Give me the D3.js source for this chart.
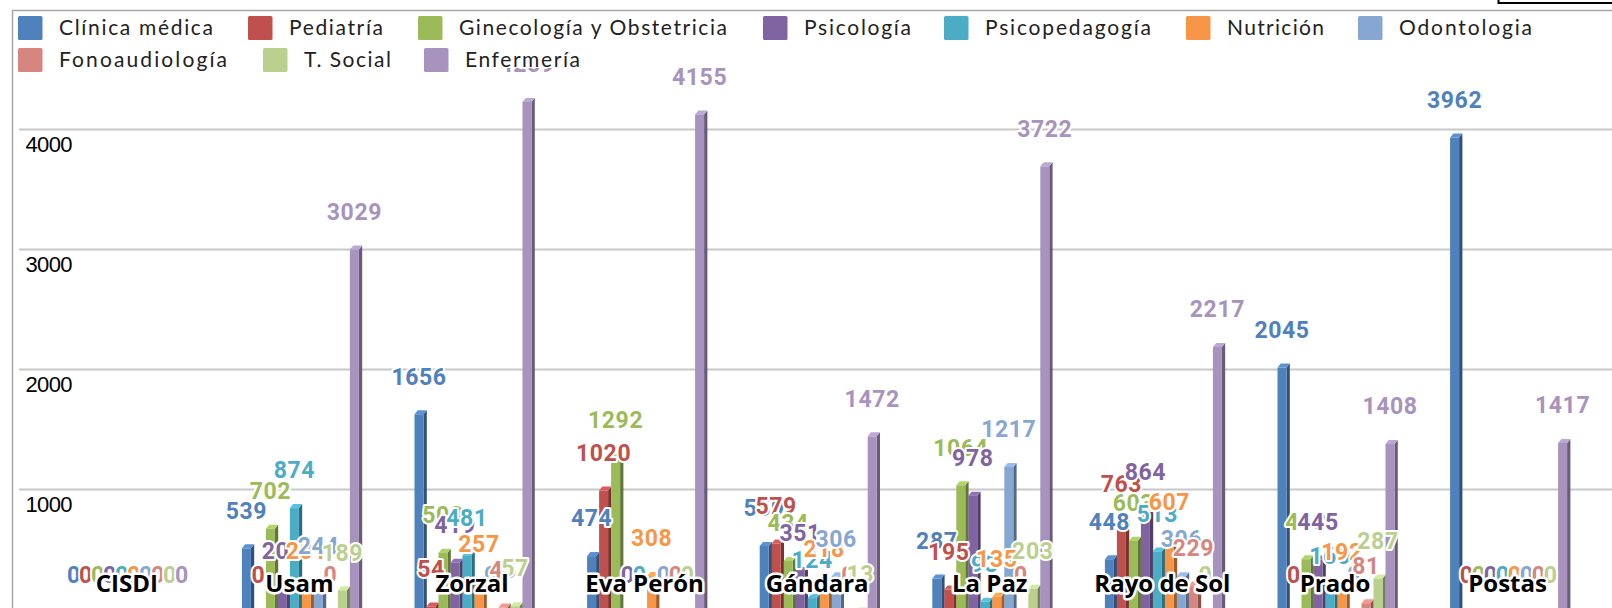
<!DOCTYPE html>
<html>
<head>
<meta charset="utf-8">
<script src="https://cdn.jsdelivr.net/npm/d3@7"></script>
<style>
  html, body { margin: 0; padding: 0; background: #fff; overflow: hidden; }
  svg { display: block; }
</style>
</head>
<body>
<div class="canvas1"></div>
<script>
const categories = ["CISDI", "Usam", "Zorzal", "Eva Perón", "Gándara", "La Paz", "Rayo de Sol", "Prado", "Postas"];
const series = ["Clínica médica", "Pediatría", "Ginecología y Obstetricia", "Psicología", "Psicopedagogía", "Nutrición", "Odontologia", "Fonoaudiología", "T. Social", "Enfermería"];
const colors = ["#4f81bd", "#c0504d", "#9bbb59", "#8064a2", "#4bacc6", "#f79646", "#86a7d2", "#d7867f", "#bbd08e", "#a793be"];

const clinica = [0, 539, 1656, 474, 559, 287, 448, 2045, 3962];
const pediatria = [0, 0, 54, 1020, 579, 195, 763, 0, 0];
const gineco = [0, 702, 503, 1292, 434, 1064, 603, 448, 0];
const psicologia = [0, 205, 419, 0, 351, 978, 864, 445, 0];
const psicoped = [0, 874, 481, 0, 124, 93, 513, 160, 0];
const nutricion = [0, 201, 257, 308, 218, 135, 607, 192, 0];
const odonto = [0, 244, 0, 0, 306, 1217, 306, 0, 0];
const fono = [0, 0, 45, 0, 0, 0, 229, 81, 0];
const social = [0, 189, 57, 0, 13, 203, 0, 287, 0];
const enfermeria = [0, 3029, 4259, 4155, 1472, 3722, 2217, 1408, 1417];
const values = [clinica, pediatria, gineco, psicologia, psicoped, nutricion, odonto, fono, social, enfermeria];

const yTicks = [1000, 2000, 3000, 4000];

// legend layout: [left, row, text width]
const legendPlace = [
  [18, 0, 154], [248, 0, 94], [418, 0, 268], [763, 0, 107], [944, 0, 166], [1186, 0, 97], [1358, 0, 133],
  [18, 1, 168], [263, 1, 87], [424, 1, 115]
];

const width = 1612, height = 608;

const svg = d3.select(".canvas1").append("svg")
    .attr("width", width)
    .attr("height", height);

svg.append("rect").attr("width", width).attr("height", height).attr("fill", "#fff");

// scales, the zero line falls just under the bottom edge of the picture
const y = d3.scaleLinear().domain([0, 4000]).range([609, 129]);
const x0 = d3.scaleBand().domain(categories).range([43, 1596.4]).paddingInner(0.3048).paddingOuter(0.1524);
const x1 = d3.scaleBand().domain(series).range([0, x0.bandwidth()]);

const barW = 9, depthX = 3.3, depthY = 4;

// frame
svg.append("path")
    .attr("d", "M12.5,608V10.5H1612")
    .attr("fill", "none")
    .attr("stroke", "#a6a6a6")
    .attr("stroke-width", 1.5);

// box corner in the top right
svg.append("path")
    .attr("d", "M1498.5,0V3H1612")
    .attr("fill", "none")
    .attr("stroke", "#000")
    .attr("stroke-width", 2);

// grid lines
const grid = svg.append("g")
    .attr("transform", "translate(19,0)")
    .call(d3.axisRight(y).tickValues(yTicks).tickSize(1593).tickFormat(""));
grid.select(".domain").remove();
grid.selectAll("line").attr("stroke", "#c8c8c8").attr("stroke-width", 2);

// y axis labels sit under their grid line
const yAxis = svg.append("g")
    .attr("transform", "translate(72,15)")
    .call(d3.axisLeft(y).tickValues(yTicks).tickSize(0).tickPadding(0).tickFormat(d3.format("d")));
yAxis.select(".domain").remove();
yAxis.selectAll("text")
    .attr("fill", "#000")
    .style("font-family", "'Liberation Sans', sans-serif")
    .style("font-size", "22px")
    .style("letter-spacing", "-0.6px");

// bars, series by series
series.forEach((s, i) => {
  const g = svg.append("g").attr("class", "series");
  const c = d3.color(colors[i]);
  const bars = g.selectAll("g")
    .data(categories.map((cat, j) => ({ cat: cat, v: values[i][j] })).filter(d => d.v > 0))
    .join("g")
      .attr("transform", d => "translate(" + (x0(d.cat) + x1(s)) + "," + y(d.v) + ")");

  // side
  bars.append("path")
      .attr("d", d => "M" + barW + "," + depthY + "l" + depthX + "," + (-depthY) + "V" + (y(0) - y(d.v)) + "H" + barW + "Z")
      .attr("fill", c.darker(1.3));
  // top
  bars.append("path")
      .attr("d", "M0," + depthY + "l" + depthX + "," + (-depthY) + "h" + barW + "l" + (-depthX) + "," + depthY + "Z")
      .attr("fill", c.brighter(0.35));
  // front
  bars.append("rect")
      .attr("y", depthY)
      .attr("width", barW)
      .attr("height", d => y(0) - y(d.v))
      .attr("fill", c);
});

// data labels go on top of all the bars
series.forEach((s, i) => {
  svg.append("g").selectAll("text")
    .data(categories.map((cat, j) => ({ cat: cat, v: values[i][j] })))
    .join("text")
      .attr("x", d => x0(d.cat) + x1(s) + barW / 2)
      .attr("y", d => y(d.v) - 34)
      .attr("dy", "0.36em")
      .attr("text-anchor", "middle")
      .attr("fill", colors[i])
      .attr("stroke", "#fff")
      .attr("stroke-width", 4)
      .attr("stroke-linejoin", "round")
      .style("paint-order", "stroke")
      .style("font-family", "Roboto, sans-serif")
      .style("font-weight", 700)
      .style("font-size", "23px")
      .style("letter-spacing", "0.6px")
      .text(d => d.v);
});

// category names
svg.append("g").selectAll("text")
  .data(categories)
  .join("text")
    .attr("x", d => x0(d) + x0.bandwidth() / 2 - 2.5)
    .attr("y", 583)
    .attr("dy", "0.36em")
    .attr("text-anchor", "middle")
    .attr("fill", "#000")
    .attr("stroke", "#fff")
    .attr("stroke-width", 5)
    .attr("stroke-linejoin", "round")
    .style("paint-order", "stroke")
    .style("font-family", "'Open Sans', sans-serif")
    .style("font-weight", 700)
    .style("font-size", "24px")
    .text(d => d);

// legend
svg.append("rect")
    .attr("x", 15).attr("y", 12)
    .attr("width", 1500).attr("height", 56)
    .attr("fill", "#fff");

const legend = svg.append("g").selectAll("g")
  .data(series)
  .join("g")
    .attr("transform", (d, i) => "translate(" + legendPlace[i][0] + "," + (16 + legendPlace[i][1] * 32) + ")");

legend.append("rect")
    .attr("width", 24.5).attr("height", 24)
    .attr("rx", 1.5)
    .attr("fill", (d, i) => colors[i]);

legend.append("text")
    .attr("x", 41)
    .attr("y", 11)
    .attr("dy", "0.36em")
    .attr("textLength", (d, i) => legendPlace[i][2])
    .attr("lengthAdjust", "spacing")
    .attr("fill", "#222")
    .style("font-family", "Lato, sans-serif")
    .style("font-size", "21px")
    .text(d => d);
</script>
</body>
</html>
